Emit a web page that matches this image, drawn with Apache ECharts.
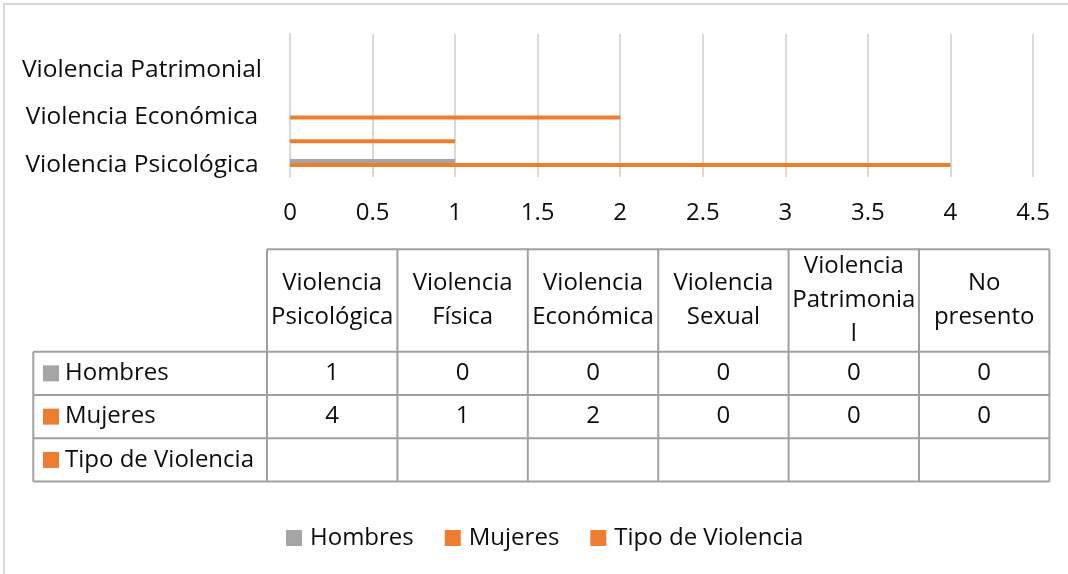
<!DOCTYPE html>
<html>
<head>
<meta charset="utf-8">
<script src="https://cdn.jsdelivr.net/npm/echarts@6/dist/echarts.min.js"></script>
<style>
    html, body { margin: 0; padding: 0; background: #fff; }
    #chart { width: 1068px; height: 574px; }
</style>
</head>
<body>
<div id="chart"></div>
<script>
// datos
const categories = ['Violencia Psicológica', 'Violencia Física', 'Violencia Económica', 'Violencia Sexual', 'Violencia Patrimonial', 'No presento'];
const tableHeaders = ['Violencia\nPsicológica', 'Violencia\nFísica', 'Violencia\nEconómica', 'Violencia\nSexual', 'Violencia\nPatrimonia\nl', 'No\npresento'];
const seriesNames = ['Hombres', 'Mujeres', 'Tipo de Violencia'];
const hombres = [1, 0, 0, 0, 0, 0];
const mujeres = [4, 1, 2, 0, 0, 0];
const tipoViolencia = [null, null, null, null, null, null];
const seriesColors = ['#A5A5A5', '#ED7D31', '#ED7D31'];

const FONT = '"Open Sans", "Noto Sans", sans-serif';
const TEXT = '#0d0d0d';
const FS = 24;

// tabla de datos (estilo Excel)
const tbl = {
    left: 33.3,
    colLeft: 267,
    colW: 130.4,
    top: 249.3,
    headH: 102.4,
    rowH: 43.3
};
const rowsData = [hombres, mujeres, tipoViolencia];

const buildTable = () => {
    const g = [];
    const line = { stroke: '#A0A0A0', lineWidth: 2 };
    const right = tbl.colLeft + tbl.colW * categories.length;
    const bodyTop = tbl.top + tbl.headH;
    const bottom = bodyTop + tbl.rowH * rowsData.length;
    // horizontales
    g.push({ type: 'line', shape: { x1: tbl.colLeft, y1: tbl.top, x2: right, y2: tbl.top }, style: line });
    for (let r = 0; r <= rowsData.length; r++) {
        const y = bodyTop + r * tbl.rowH;
        g.push({ type: 'line', shape: { x1: tbl.left, y1: y, x2: right, y2: y }, style: line });
    }
    // verticales
    g.push({ type: 'line', shape: { x1: tbl.left, y1: bodyTop, x2: tbl.left, y2: bottom }, style: line });
    for (let c = 0; c <= categories.length; c++) {
        const x = tbl.colLeft + c * tbl.colW;
        g.push({ type: 'line', shape: { x1: x, y1: tbl.top, x2: x, y2: bottom }, style: line });
    }
    // encabezados
    tableHeaders.forEach((h, c) => {
        g.push({
            type: 'text',
            style: {
                text: h, x: tbl.colLeft + (c + 0.5) * tbl.colW, y: tbl.top + tbl.headH / 2,
                align: 'center', verticalAlign: 'middle', fontSize: FS, fontFamily: FONT, lineHeight: 34, fill: TEXT
            }
        });
    });
    // filas
    rowsData.forEach((row, r) => {
        const cy = bodyTop + (r + 0.5) * tbl.rowH;
        g.push({ type: 'rect', shape: { x: 43, y: cy - 8, width: 16, height: 16 }, style: { fill: seriesColors[r] } });
        g.push({
            type: 'text',
            style: { text: seriesNames[r], x: 65, y: cy, align: 'left', verticalAlign: 'middle', fontSize: FS, fontFamily: FONT, fill: TEXT }
        });
        row.forEach((v, c) => {
            if (v === null) return;
            g.push({
                type: 'text',
                style: {
                    text: String(v), x: tbl.colLeft + (c + 0.5) * tbl.colW, y: cy,
                    align: 'center', verticalAlign: 'middle', fontSize: FS, fontFamily: FONT, fill: TEXT
                }
            });
        });
    });
    // borde del área del gráfico
    g.push({ type: 'rect', shape: { x: 4, y: 4, width: 1200, height: 700 }, style: { fill: 'none', stroke: '#D9D9D9', lineWidth: 2 } });
    return g;
};

const option = {
    animation: false,
    backgroundColor: '#fff',
    textStyle: { fontFamily: FONT, color: TEXT },
    color: seriesColors,
    grid: { left: 290, top: 34, width: 743, height: 143, containLabel: false },
    legend: {
        data: seriesNames,
        left: 281,
        top: 521,
        icon: 'rect',
        itemWidth: 16,
        itemHeight: 16,
        itemGap: 31,
        textStyle: { fontSize: FS, fontFamily: FONT, color: TEXT, padding: [0, 0, 0, 3] }
    },
    xAxis: {
        type: 'value',
        min: 0,
        max: 4.5,
        interval: 0.5,
        axisLine: { show: false },
        axisTick: { show: false },
        axisLabel: { fontSize: FS, fontFamily: FONT, color: TEXT, margin: 24 },
        splitLine: { show: true, lineStyle: { color: '#D9D9D9', width: 2 } }
    },
    yAxis: {
        type: 'category',
        data: categories,
        axisLine: { show: true, lineStyle: { color: '#D9D9D9', width: 2 } },
        axisTick: { show: false },
        axisLabel: { interval: 1, fontSize: 24.5, fontFamily: FONT, color: TEXT, margin: 148, align: 'center' }
    },
    series: [
        { name: seriesNames[0], type: 'bar', data: hombres, barWidth: 4, barGap: '0%' },
        { name: seriesNames[1], type: 'bar', data: mujeres, barWidth: 4, barGap: '0%' },
        { name: seriesNames[2], type: 'bar', data: tipoViolencia, barWidth: 4, barGap: '0%' }
    ],
    graphic: buildTable()
};

const chart = echarts.init(document.getElementById('chart'), null, { renderer: 'canvas' });
chart.setOption(option);
</script>
</body>
</html>
